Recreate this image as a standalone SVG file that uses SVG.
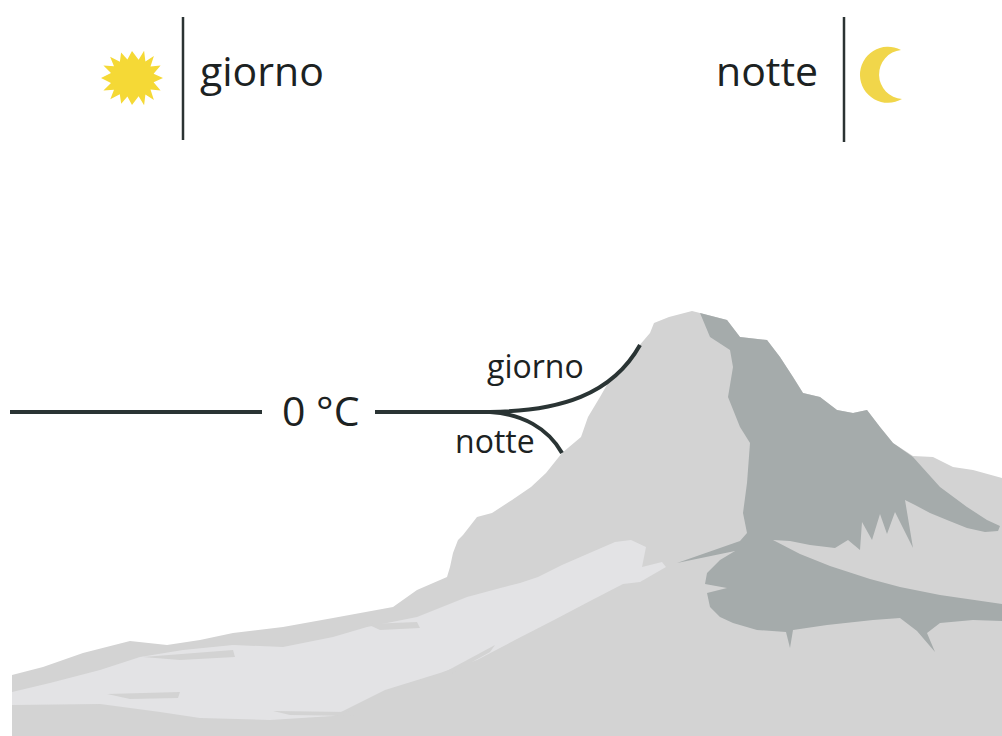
<svg xmlns="http://www.w3.org/2000/svg" width="1002" height="736" viewBox="0 0 1002 736">
  <style>
    .txt { font-family: "Open Sans", "Noto Sans", "Liberation Sans", sans-serif; fill: #1c2222; }
    .big { font-size: 41px; }
    .small { font-size: 32px; }
    .rule { stroke: #2b3333; stroke-width: 2.5; fill: none; }
    .iso { stroke: #2a3434; stroke-width: 4; fill: none; stroke-linecap: butt; }
    .rock { fill: #d3d3d3; }
    .shade { fill: #a5abab; }
    .snow { fill: #e3e3e5; }
  </style>
  <rect width="1002" height="736" fill="#ffffff"/>

  <!-- mountain -->
  <g id="mountain">
    <path class="rock" d="M12,736 L12,675 L43,667 L83,653 L130,641 L167,645 L200,640 L233,633 L283,627 L333,618 L393,607 L417,590 L447,577 L450,567 L453,553 L458,540 L463,535 L477,517 L492,513 L512,500 L531,487 L546,473 L562,453 L581,437 L588,417 L600,397 L608,383 L623,370 L638,347 L650,333 L654,323 L669,317 L692,311 L700,313 L727,320 L740,337 L767,340 L780,357 L793,377 L803,393 L820,397 L837,410 L853,413 L867,410 L880,427 L893,443 L913,456 L933,457 L953,467 L973,470 L1002,478 L1002,736 Z"/>
    <path class="snow" d="M12,692 L50,683 L100,670 L140,657 L183,650 L233,645 L283,647 L333,637 L367,627 L417,617 L467,597 L493,590 L520,583 L538,577 L562,565 L585,555 L615,542 L631,540 L646,547 L642,567 L662,562 L666,567 L640,582 L623,584 L592,600 L554,620 L515,640 L477,660 L440,673 L385,690 L333,716 L270,720 L200,718 L160,712 L100,704 L12,705 Z"/>
    <g class="rock">
      <path d="M107,694 L180,692 L178,698 L130,699 Z"/>
      <path d="M143,657 L233,650 L235,657 L180,660 Z"/>
      <path d="M367,624 L417,622 L420,628 L380,630 Z"/>
      <path d="M273,711 L350,712 L355,716 L290,715 Z"/>
      <path d="M430,680 L495,645 L490,652 L440,680 Z"/>
    </g>
    <path class="shade" d="M700,313 L727,320 L740,337 L767,340 L780,357 L793,377 L803,393 L820,397 L837,410 L853,413 L867,410 L880,427 L893,443 L913,457 L940,487 L967,507 L987,520 L1000,526 L998,531 L985,532 L967,528 L947,520 L930,513 L915,505 L905,500 L913,548 L895,512 L887,534 L880,514 L872,540 L862,522 L860,550 L848,540 L835,548 L810,545 L790,541 L773,540 L800,554 L830,566 L870,579 L900,587 L940,595 L1002,604 L1002,621 L973,620 L940,623 L927,633 L935,652 L917,631 L900,618 L873,620 L827,625 L793,630 L790,648 L786,632 L757,630 L733,623 L720,617 L710,607 L707,593 L727,588 L705,584 L707,573 L720,560 L735,551 L677,563 L740,541 L747,533 L743,513 L747,483 L750,443 L740,427 L728,397 L733,367 L730,350 L710,337 Z"/>
  </g>

  <!-- legend: day -->
  <g id="legend-day">
    <polygon fill="#f5d936" points="163,78 153.6,82.3 160.6,90.6 150.5,89.5 153.9,99.9 145.4,94.4 144.1,105.3 138.6,96.2 132,105 127.4,96.4 121.2,103.8 119.8,94.3 110.3,99.2 114,89.8 103.4,90.6 111,83.1 101,78 111,73 103.4,65.4 114,66.2 110.1,56.7 119.9,61.8 121.1,52.4 127.4,59.6 132,51 138.6,59.8 144.1,50.7 145.4,61.6 153.9,56.1 150.5,66.5 160.6,65.4 153.6,73.7"/>
    <line class="rule" x1="183" y1="17" x2="183" y2="140"/>
    <text class="txt big" x="200" y="86">giorno</text>
  </g>

  <!-- legend: night -->
  <g id="legend-night">
    <text class="txt big" x="716" y="86">notte</text>
    <line class="rule" x1="844" y1="17" x2="844" y2="142"/>
    <path fill="#f1d64a" d="M901,50 A28,28 0 1 0 902,99 A24.6,24.6 0 0 1 901,50 Z"/>
  </g>

  <!-- freezing level lines -->
  <g id="connectors">
    <line class="iso" x1="10" y1="412" x2="262" y2="412"/>
    <line class="iso" x1="375" y1="412" x2="494" y2="412"/>
    <path class="iso" d="M490,412 C560,411 612,395 640,345"/>
    <path class="iso" d="M490,412 C522,414 548,428 562,453"/>
  </g>

  <g id="label-zero">
    <text class="txt big" x="282" y="426">0 °C</text>
  </g>
  <g id="label-day">
    <text class="txt small" x="487" y="378">giorno</text>
  </g>
  <g id="label-night">
    <text class="txt small" x="455" y="453">notte</text>
  </g>
</svg>
